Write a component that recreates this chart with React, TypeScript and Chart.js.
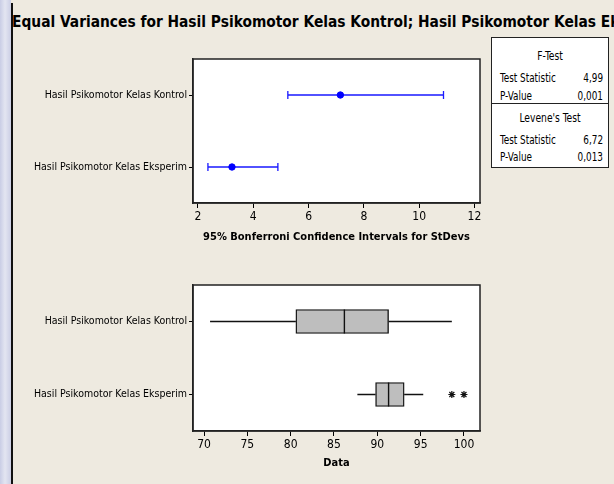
import React, { useEffect, useRef } from "react";
import { Chart, registerables } from "chart.js";

Chart.register(...registerables);

const FONT = "'DejaVu Sans Condensed', 'DejaVu Sans', sans-serif";

const groupLabels = ["Hasil Psikomotor Kelas Kontrol", "Hasil Psikomotor Kelas Eksperim"];

// Bonferroni CI for StDevs
const ciLower = [5.25, 2.36];
const ciStDev = [7.15, 3.23];
const ciUpper = [10.88, 4.89];
const ciTicks = [2, 4, 6, 8, 10, 12];

// Boxplot data
const whiskerLow = [70.7, 87.7];
const q1 = [80.6, 89.8];
const median = [86.2, 91.3];
const q3 = [91.3, 93.1];
const whiskerHigh = [98.6, 95.3];
const outliers = [
  { x: 98.6, g: 1 },
  { x: 100, g: 1 },
];
const dataTicks = [70, 75, 80, 85, 90, 95, 100];

const frame = {
  id: "frame",
  beforeDraw(chart: any) {
    const { ctx, chartArea: a } = chart;
    ctx.save();
    ctx.fillStyle = "#ffffff";
    ctx.fillRect(a.left, a.top, a.right - a.left, a.bottom - a.top);
    ctx.restore();
  },
  afterDraw(chart: any) {
    const { ctx, chartArea: a } = chart;
    ctx.save();
    ctx.strokeStyle = "#222";
    ctx.lineWidth = 1.5;
    ctx.strokeRect(a.left, a.top, a.right - a.left, a.bottom - a.top);
    ctx.restore();
  },
};

const errorBars = {
  id: "errorBars",
  beforeDatasetsDraw(chart: any) {
    const { ctx } = chart;
    const xs = chart.scales.x;
    const ys = chart.scales.y;
    ctx.save();
    ctx.strokeStyle = "#1a1aff";
    ctx.lineWidth = 1.3;
    for (let i = 0; i < ciLower.length; i++) {
      const y = ys.getPixelForValue(i);
      const x1 = xs.getPixelForValue(ciLower[i]);
      const x2 = xs.getPixelForValue(ciUpper[i]);
      ctx.beginPath();
      ctx.moveTo(x1, y);
      ctx.lineTo(x2, y);
      ctx.moveTo(x1, y - 4);
      ctx.lineTo(x1, y + 4);
      ctx.moveTo(x2, y - 4);
      ctx.lineTo(x2, y + 4);
      ctx.stroke();
    }
    ctx.restore();
  },
};

const boxParts = {
  id: "boxParts",
  beforeDatasetsDraw(chart: any) {
    const { ctx } = chart;
    const xs = chart.scales.x;
    const ys = chart.scales.y;
    ctx.save();
    ctx.strokeStyle = "#111";
    ctx.lineWidth = 1.4;
    for (let i = 0; i < q1.length; i++) {
      const y = ys.getPixelForValue(i);
      ctx.beginPath();
      ctx.moveTo(xs.getPixelForValue(whiskerLow[i]), y);
      ctx.lineTo(xs.getPixelForValue(q1[i]), y);
      ctx.moveTo(xs.getPixelForValue(q3[i]), y);
      ctx.lineTo(xs.getPixelForValue(whiskerHigh[i]), y);
      ctx.stroke();
    }
    ctx.restore();
  },
  afterDatasetsDraw(chart: any) {
    const { ctx } = chart;
    const xs = chart.scales.x;
    const ys = chart.scales.y;
    ctx.save();
    ctx.strokeStyle = "#111";
    ctx.lineWidth = 1.4;
    for (let i = 0; i < median.length; i++) {
      const y = ys.getPixelForValue(i);
      const x = xs.getPixelForValue(median[i]);
      ctx.beginPath();
      ctx.moveTo(x, y - 12);
      ctx.lineTo(x, y + 12);
      ctx.stroke();
    }
    ctx.restore();
  },
};

function yAxis(labels: string[]) {
  return {
    type: "category" as const,
    labels,
    offset: true,
    afterFit(s: any) {
      s.width = 193;
    },
    grid: { display: true, drawOnChartArea: false, drawTicks: true, tickLength: 4, offset: false, color: "#000", lineWidth: 1 },
    border: { display: true, color: "#222", width: 1.5 },
    ticks: { color: "#000", padding: 2, font: { family: FONT, size: 10.5 } },
  };
}

function xAxis(min: number, max: number, ticks: number[], title: string, h: number, pb: number) {
  return {
    type: "linear" as const,
    min,
    max,
    afterBuildTicks(s: any) {
      s.ticks = ticks.map((v) => ({ value: v }));
    },
    afterFit(s: any) {
      s.height = h;
    },
    grid: { display: true, drawOnChartArea: false, drawTicks: true, tickLength: 5, color: "#000", lineWidth: 1 },
    border: { display: true, color: "#222", width: 1.5 },
    ticks: { color: "#000", padding: 2, maxRotation: 0, autoSkip: false, font: { family: FONT, size: 12 } },
    title: {
      display: true,
      text: title,
      color: "#000",
      padding: { top: 0, bottom: pb },
      font: { family: FONT, size: 11, weight: "bold" as const },
    },
  };
}

const sx = (scale: number, origin: string) => ({
  display: "inline-block",
  transform: `scaleX(${scale})`,
  transformOrigin: origin,
  whiteSpace: "nowrap" as const,
});

export default function App() {
  const topRef = useRef<HTMLCanvasElement>(null);
  const botRef = useRef<HTMLCanvasElement>(null);

  useEffect(() => {
    const c1 = new Chart(topRef.current!, {
      type: "scatter",
      data: {
        datasets: [
          {
            data: ciStDev.map((x, i) => ({ x, y: groupLabels[i] as any })),
            pointRadius: 3.2,
            pointBackgroundColor: "#0000ff",
            pointBorderColor: "#0000ff",
          },
        ],
      },
      options: {
        animation: false,
        responsive: false,
        events: [],
        layout: { padding: { left: 0, top: 19, right: 134, bottom: 0 } },
        plugins: { legend: { display: false }, tooltip: { enabled: false } },
        scales: {
          x: xAxis(1.82, 12.2, ciTicks, "95% Bonferroni Confidence Intervals for StDevs", 57, 16) as any,
          y: yAxis(groupLabels) as any,
        },
      },
      plugins: [frame, errorBars],
    });

    const c2 = new Chart(botRef.current!, {
      type: "bar",
      data: {
        labels: groupLabels,
        datasets: [
          {
            data: q1.map((v, i) => [v, q3[i]]) as any,
            backgroundColor: "#bebebe",
            borderColor: "#111",
            borderWidth: 1.4,
            borderSkipped: false,
            barThickness: 24,
          } as any,
          {
            type: "scatter",
            data: outliers.map((o) => ({ x: o.x, y: groupLabels[o.g] as any })),
            pointStyle: "star",
            pointRadius: 3.5,
            pointBorderColor: "#111",
            pointBorderWidth: 1.2,
          } as any,
        ],
      },
      options: {
        animation: false,
        responsive: false,
        events: [],
        indexAxis: "y",
        layout: { padding: { left: 0, top: 25, right: 134, bottom: 0 } },
        plugins: { legend: { display: false }, tooltip: { enabled: false } },
        scales: {
          x: xAxis(68.73, 101.85, dataTicks, "Data", 53, 14) as any,
          y: yAxis(groupLabels) as any,
        },
      },
      plugins: [frame, boxParts],
    });

    return () => {
      c1.destroy();
      c2.destroy();
    };
  }, []);

  const statRow = (label: string, value: string, top: number) => (
    <div style={{ position: "absolute", left: 8, right: 5, top, height: 14 }}>
      <span style={{ position: "absolute", left: 0, top: 0, ...sx(0.82, "left center") }}>{label}</span>
      <span style={{ position: "absolute", right: 0, top: 0, ...sx(0.82, "right center") }}>{value}</span>
    </div>
  );

  return (
    <div
      style={{
        position: "fixed",
        left: 0,
        top: 0,
        width: 614,
        height: 484,
        overflow: "hidden",
        background: "#eeeae0",
        fontFamily: FONT,
      }}
    >
      <div
        style={{
          position: "absolute",
          left: 0,
          top: 0,
          width: 11,
          height: 484,
          background: "linear-gradient(to right, #c9cde5 0px, #e3e5f1 5px, #cfd2e7 10px)",
        }}
      />
      <div style={{ position: "absolute", left: 11, top: 3, width: 1.5, height: 481, background: "#111" }} />
      <div
        style={{
          position: "absolute",
          left: 12,
          top: 12,
          fontSize: 16.5,
          fontWeight: "bold",
          color: "#000",
          lineHeight: "20px",
          ...sx(0.93, "left center"),
        }}
      >
        Equal Variances for Hasil Psikomotor Kelas Kontrol; Hasil Psikomotor Kelas Eksperim
      </div>
      <canvas ref={topRef} width={614} height={220} style={{ position: "absolute", left: 0, top: 40 }} />
      <canvas ref={botRef} width={614} height={224} style={{ position: "absolute", left: 0, top: 260 }} />
      <div
        style={{
          position: "absolute",
          left: 491,
          top: 37,
          width: 116,
          height: 129,
          background: "#fff",
          border: "1px solid #222",
          fontSize: 12,
          color: "#000",
          lineHeight: "14px",
        }}
      >
        <div style={{ position: "absolute", left: 0, right: 0, top: 11, textAlign: "center" }}>
          <span style={sx(0.85, "center center")}>F-Test</span>
        </div>
        {statRow("Test Statistic", "4,99", 33)}
        {statRow("P-Value", "0,001", 51)}
        <div style={{ position: "absolute", left: 0, right: 0, top: 65, height: 1, background: "#222" }} />
        <div style={{ position: "absolute", left: 0, right: 0, top: 73, textAlign: "center" }}>
          <span style={sx(0.85, "center center")}>Levene's Test</span>
        </div>
        {statRow("Test Statistic", "6,72", 95)}
        {statRow("P-Value", "0,013", 112)}
      </div>
    </div>
  );
}
